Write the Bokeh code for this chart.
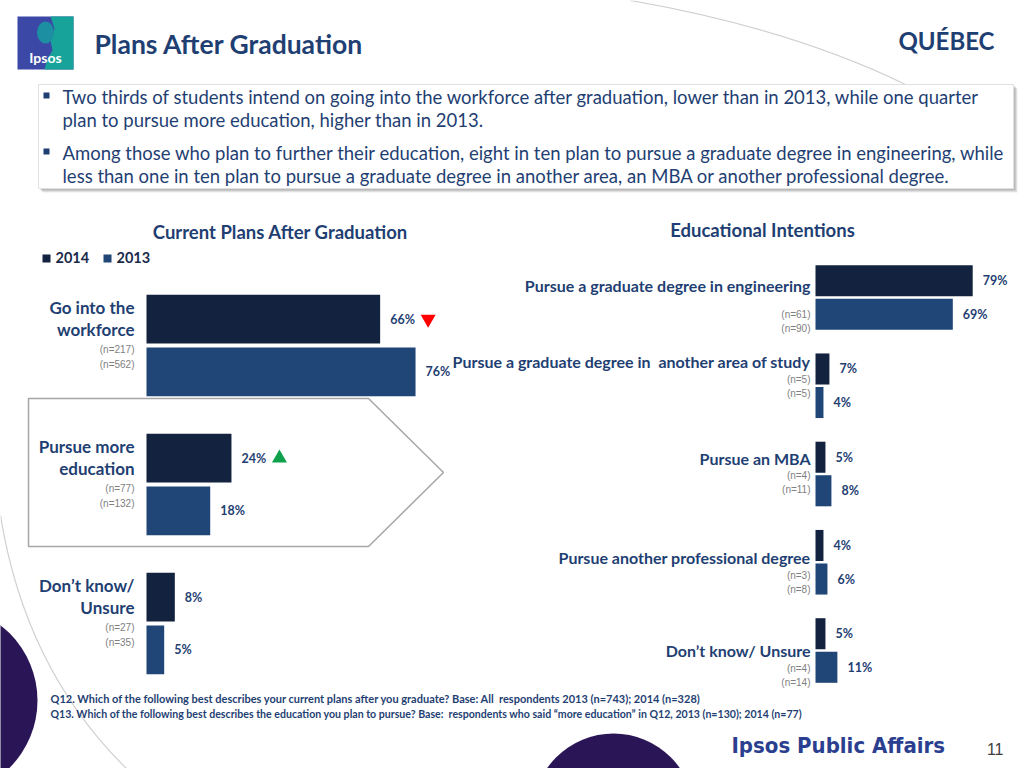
from bokeh.plotting import figure
from bokeh.models import Range1d
from bokeh.core.properties import value
from bokeh.embed import file_html
from bokeh.resources import INLINE

# ---------------- data ----------------
years = ["2014", "2013"]

left_categories = ["Go into the\nworkforce", "Pursue more\neducation", "Don’t know/\nUnsure"]
left_2014 = [66, 24, 8]
left_2013 = [76, 18, 5]
left_n_2014 = [217, 77, 27]
left_n_2013 = [562, 132, 35]
left_change = ["down", "up", None]

right_categories = [
    "Pursue a graduate degree in engineering",
    "Pursue a graduate degree in\u00a0 another area of study",
    "Pursue an MBA",
    "Pursue another professional degree",
    "Don’t know/ Unsure",
]
right_2014 = [79, 7, 5, 4, 5]
right_2013 = [69, 4, 8, 6, 11]
right_n_2014 = [61, 5, 4, 3, 4]
right_n_2013 = [90, 5, 11, 8, 14]

title = "Plans After Graduation"
region = "QUÉBEC"
left_title = "Current Plans After Graduation"
right_title = "Educational Intentions"
bullets = [
    ["Two thirds of students intend on going into the workforce after graduation, lower than in 2013, while one quarter",
     "plan to pursue more education, higher than in 2013."],
    ["Among those who plan to further their education, eight in ten plan to pursue a graduate degree in engineering, while",
     "less than one in ten plan to pursue a graduate degree in another area, an MBA or another professional degree."],
]
footnotes = [
    "Q12. Which of the following best describes your current plans after you graduate? Base: All\u00a0 respondents 2013 (n=743); 2014 (n=328)",
    "Q13. Which of the following best describes the education you plan to pursue? Base:\u00a0 respondents who said \u201cmore education\u201d in Q12, 2013 (n=130); 2014 (n=77)",
]
brand = "Ipsos Public Affairs"
page_no = "11"

# ---------------- styles ----------------
C2014 = "#13233f"
C2013 = "#1f4677"
NAVY = "#1f3f73"
GREY = "#7f7f7f"
PURPLE = "#2a1656"
FONT = value("Lato")
NFONT = value("Liberation Sans")

W, H = 1024, 768
p = figure(width=W, height=H, x_range=Range1d(0, W), y_range=Range1d(H, 0),
           output_backend="svg", toolbar_location=None,
           x_axis_location=None, y_axis_location=None, min_border=0,
           outline_line_color=None, background_fill_color="white", border_fill_color="white")
p.grid.visible = False

# chart scales (pixel anchors of the slide layout)
L0, LPPU, LC0, LSTEP = 146, 3.54, 345, 139.0
R0, RPPU, RC0, RSTEP = 815, 1.99, 297, 88.25
p.extra_x_ranges = {
    "lx": Range1d((0 - L0) / LPPU, (W - L0) / LPPU),
    "rx": Range1d((0 - R0) / RPPU, (W - R0) / RPPU),
}
p.extra_y_ranges = {
    "ly": Range1d((H - LC0) / LSTEP, (0 - LC0) / LSTEP),
    "ry": Range1d((H - RC0) / RSTEP, (0 - RC0) / RSTEP),
}
OFF, BH = 0.19, 0.352

# ---------------- decorations ----------------
p.quadratic(x0=[630], y0=[0], x1=[905], y1=[84], cx=[790], cy=[28], line_color="#d0d0d0", line_width=1.2)
p.quadratic(x0=[0], y0=[515], x1=[128], y1=[770], cx=[25], cy=[670], line_color="#d0d0d0", line_width=1.2)
p.ellipse(x=[-58], y=[700], width=[190], height=[190], fill_color=PURPLE, line_color=None)
p.ellipse(x=[613], y=[814], width=[162], height=[162], fill_color=PURPLE, line_color=None)

# logo
p.quad(left=[17], right=[73], top=[16], bottom=[69], fill_color="#3b48a6", line_color=None)
p.patch(x=[50, 73, 73, 44, 47, 52, 50, 54], y=[16, 16, 69, 69, 58, 50, 40, 28], fill_color="#17a39a", line_color=None)
p.ellipse(x=[45], y=[32], width=[17], height=[22], fill_color="#1c8fa3", line_color=None)
p.text(x=[45], y=[57], text=["Ipsos"], text_color="white", text_font=FONT, text_font_style="bold",
       text_font_size=value("14px"), text_align="center", text_baseline="middle")

# titles
p.text(x=[94], y=[43], text=[title], text_color=NAVY, text_font=FONT, text_font_style="bold",
       text_font_size=value("26.5px"), text_align="left", text_baseline="middle")
p.text(x=[994], y=[40], text=[region], text_color=NAVY, text_font=FONT, text_font_style="bold",
       text_font_size=value("24px"), text_align="right", text_baseline="middle")

# bullet box with shadow
for d, a in [(4, 0.15), (3, 0.2), (2, 0.3)]:
    p.quad(left=[38 + d], right=[1013 + d], top=[84 + d], bottom=[188 + d], fill_color="#7f7f7f",
           fill_alpha=a, line_color=None)
p.quad(left=[38], right=[1013], top=[84], bottom=[188], fill_color="white", line_color="#e0e0e0", line_width=1)
by = [96, 152]
for k, lines in enumerate(bullets):
    p.scatter(x=[46], y=[by[k] - 1], marker="square", size=6, fill_color=NAVY, line_color=None)
    p.text(x=[62, 62], y=[by[k], by[k] + 23], text=lines, text_color=NAVY, text_font=FONT,
           text_font_size=value("18.5px"), text_align="left", text_baseline="middle")

# section titles
p.text(x=[280], y=[231], text=[left_title], text_color=NAVY, text_font=FONT, text_font_style="bold",
       text_font_size=value("18.5px"), text_align="center", text_baseline="middle")
p.text(x=[762], y=[229], text=[right_title], text_color=NAVY, text_font=FONT, text_font_style="bold",
       text_font_size=value("18.5px"), text_align="center", text_baseline="middle")

# legend
p.scatter(x=[46, 107], y=[258, 258], marker="square", size=8, fill_color=[C2014, C2013], line_color=None)
p.text(x=[55, 116], y=[257, 257], text=years, text_color="#1a2b4a", text_font=FONT, text_font_style="bold",
       text_font_size=value("14.5px"), text_align="left", text_baseline="middle")

# arrow box
p.patch(x=[28, 368, 443, 368, 28], y=[398, 398, 472, 546, 546], fill_color=None,
        line_color="#a6a6a6", line_width=1.5)

# ---------------- left chart ----------------
nl = len(left_categories)
for j, (vals, col) in enumerate([(left_2014, C2014), (left_2013, C2013)]):
    ys = [i + (2 * j - 1) * OFF for i in range(nl)]
    p.hbar(y=ys, left=0, right=vals, height=BH, fill_color=col, line_color=None,
           x_range_name="lx", y_range_name="ly")
    p.text(x=vals, y=ys, text=[f"{v}%" for v in vals], x_offset=10, text_color=NAVY, text_font=FONT,
           text_font_style="bold", text_font_size=value("12.5px"), text_align="left", text_baseline="middle",
           x_range_name="lx", y_range_name="ly")

l1 = [c.split("\n")[0] for c in left_categories]
l2 = [c.split("\n")[1] for c in left_categories]
for lines, dy in [(l1, -38), (l2, -16)]:
    p.text(x=[0] * nl, y=[i + dy / LSTEP for i in range(nl)], text=lines, x_offset=-12, text_color=NAVY,
           text_font=FONT, text_font_style="bold", text_font_size=value("17px"), text_align="right",
           text_baseline="middle", x_range_name="lx", y_range_name="ly")
for ns, dy in [(left_n_2014, 4), (left_n_2013, 19)]:
    p.text(x=[0] * nl, y=[i + dy / LSTEP for i in range(nl)], text=[f"(n={n})" for n in ns], x_offset=-12,
           text_color=GREY, text_font=NFONT, text_font_size=value("10px"), text_align="right",
           text_baseline="middle", x_range_name="lx", y_range_name="ly")

TRI = 48 / LPPU
for i, ch in enumerate(left_change):
    if ch is None:
        continue
    p.scatter(x=[left_2014[i] + TRI], y=[i - OFF], marker="inverted_triangle" if ch == "down" else "triangle",
              size=15, fill_color="#ff0000" if ch == "down" else "#0fa04b", line_color=None,
              x_range_name="lx", y_range_name="ly")

# ---------------- right chart ----------------
nr = len(right_categories)
for j, (vals, col) in enumerate([(right_2014, C2014), (right_2013, C2013)]):
    ys = [i + (2 * j - 1) * OFF for i in range(nr)]
    p.hbar(y=ys, left=0, right=vals, height=BH, fill_color=col, line_color=None,
           x_range_name="rx", y_range_name="ry")
    p.text(x=vals, y=ys, text=[f"{v}%" for v in vals], x_offset=10, text_color=NAVY, text_font=FONT,
           text_font_style="bold", text_font_size=value("12.5px"), text_align="left", text_baseline="middle",
           x_range_name="rx", y_range_name="ry")

label_dy = [-12, -24, -16, -5, 0]
n_dy = [17, -6, 1, 13, 18]
p.text(x=[0] * nr, y=[i + label_dy[i] / RSTEP for i in range(nr)], text=right_categories, x_offset=-5,
       text_color=NAVY, text_font=FONT, text_font_style="bold", text_font_size=value("16px"),
       text_align="right", text_baseline="middle", x_range_name="rx", y_range_name="ry")
for ns, extra in [(right_n_2014, 0), (right_n_2013, 14)]:
    p.text(x=[0] * nr, y=[i + (n_dy[i] + extra) / RSTEP for i in range(nr)], text=[f"(n={n})" for n in ns],
           x_offset=-5, text_color=GREY, text_font=NFONT, text_font_size=value("10px"), text_align="right",
           text_baseline="middle", x_range_name="rx", y_range_name="ry")

# ---------------- footer ----------------
p.text(x=[50], y=[698], text=[footnotes[0]], text_color=NAVY, text_font=FONT, text_font_style="bold",
       text_font_size=value("11px"), text_align="left", text_baseline="middle")
p.text(x=[50], y=[713], text=[footnotes[1]], text_color=NAVY, text_font=FONT, text_font_style="bold",
       text_font_size=value("10.6px"), text_align="left", text_baseline="middle")
p.text(x=[731], y=[745], text=[brand], text_color="#2a3f8f", text_font=value("DejaVu Sans Condensed"),
       text_font_style="bold", text_font_size=value("22px"), text_align="left", text_baseline="middle")
p.text(x=[1003], y=[748], text=[page_no], text_color="#404040", text_font=NFONT,
       text_font_size=value("16px"), text_align="right", text_baseline="middle")

open("out.html", "w").write(file_html(p, INLINE))
